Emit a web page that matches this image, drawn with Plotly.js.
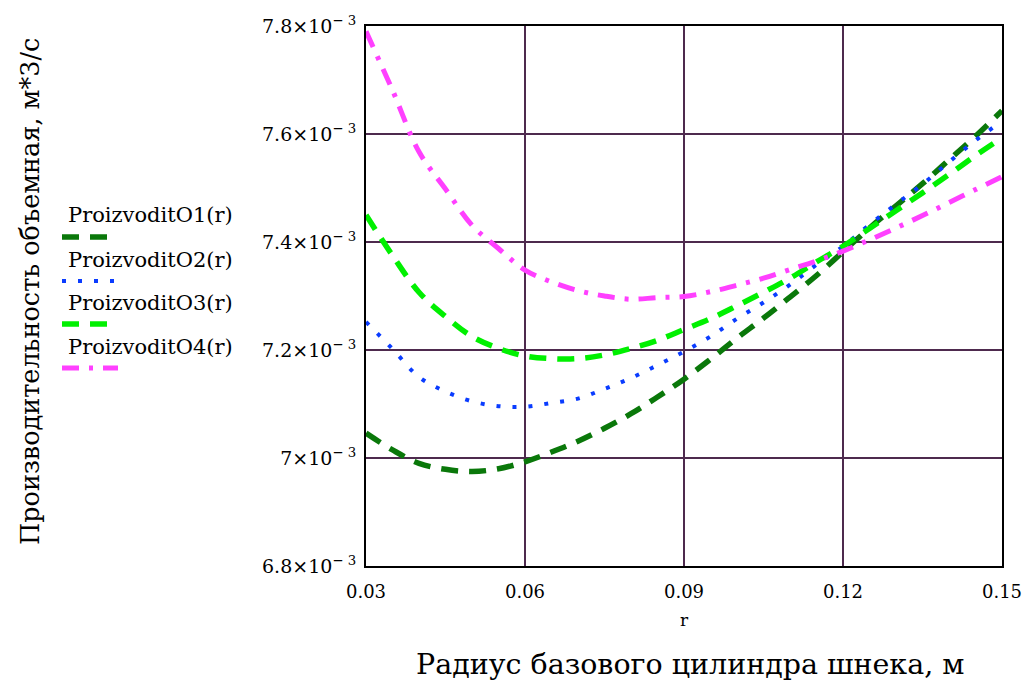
<!DOCTYPE html>
<html>
<head>
<meta charset="utf-8">
<script src="https://cdn.plot.ly/plotly-3.0.1.min.js"></script>
<style>html,body{margin:0;padding:0;background:#fff;}#chart{width:1033px;height:684px;}</style>
</head>
<body>
<div id="chart"></div>
<script>
// radius r, m
const r = [0.030,0.035,0.040,0.045,0.050,0.055,0.060,0.065,0.070,0.075,0.080,0.085,0.090,0.095,0.100,0.105,0.110,0.115,0.120,0.125,0.130,0.135,0.140,0.145,0.150];
// values in units of 1e-3 m^3/s
const proizvodit1 = [7.046,7.015,6.990,6.979,6.975,6.980,6.993,7.011,7.031,7.055,7.082,7.113,7.146,7.183,7.222,7.259,7.298,7.338,7.382,7.426,7.467,7.508,7.552,7.596,7.643];
const proizvodit2 = [7.252,7.202,7.150,7.123,7.105,7.096,7.095,7.102,7.110,7.128,7.148,7.172,7.197,7.225,7.258,7.288,7.321,7.358,7.392,7.432,7.470,7.507,7.548,7.588,7.624];
const proizvodit3 = [7.450,7.375,7.307,7.262,7.225,7.203,7.189,7.184,7.184,7.191,7.203,7.218,7.238,7.258,7.282,7.307,7.333,7.363,7.392,7.425,7.458,7.491,7.525,7.560,7.593];
const proizvodit4 = [7.790,7.681,7.567,7.498,7.431,7.388,7.348,7.326,7.310,7.300,7.294,7.297,7.299,7.308,7.320,7.333,7.349,7.365,7.383,7.404,7.426,7.449,7.473,7.497,7.521];

const seriesNames = ["ProizvoditO1(r)","ProizvoditO2(r)","ProizvoditO3(r)","ProizvoditO4(r)"];
const xTickVals = [0.03,0.06,0.09,0.12,0.15];
const xTickText = ["0.03","0.06","0.09","0.12","0.15"];
const yTickVals = [6.8,7.0,7.2,7.4,7.6,7.8];
const yTickText = ["6.8×10<sup>− 3</sup>","7×10<sup>− 3</sup>","7.2×10<sup>− 3</sup>","7.4×10<sup>− 3</sup>","7.6×10<sup>− 3</sup>","7.8×10<sup>− 3</sup>"];

const styles = [
  {color:"#0a780a", width:5.5, dash:"17px,11px"},
  {color:"#0a3cff", width:4, dash:"4px,12px"},
  {color:"#00f000", width:5.5, dash:"17px,11px"},
  {color:"#ff40ff", width:5, dash:"17px,10px,4px,10px"}
];
const ys = [proizvodit1, proizvodit2, proizvodit3, proizvodit4];

const traces = ys.map((y,i)=>({
  x:r, y:y, type:"scatter", mode:"lines", name:seriesNames[i],
  line:{color:styles[i].color, width:styles[i].width, dash:styles[i].dash, shape:"spline", smoothing:1},
  showlegend:false, hoverinfo:"skip"
}));

const font = "DejaVu Serif, Liberation Serif, serif";
const L = 366, R = 1002, T = 26, B = 566;
const W = R-L, H = B-T;
const px = v => (v - L)/W;
const py = v => (B - v)/H;

// legend (Mathcad style: name above sample)
const legText = [215, 260, 303, 347];
const legLine = [237, 281, 324, 368];
const legEnd = [108, 116, 108, 118];
const annotations = [];
const shapes = [];
for (let i=0;i<4;i++){
  annotations.push({xref:"paper", yref:"paper", x:px(66), y:py(legText[i]), xanchor:"left", yanchor:"middle",
    text:seriesNames[i], showarrow:false, font:{family:font, size:21, color:"#000"}});
  shapes.push({type:"line", xref:"paper", yref:"paper", x0:px(62), x1:px(legEnd[i]), y0:py(legLine[i]), y1:py(legLine[i]),
    line:{color:styles[i].color, width:styles[i].width, dash:styles[i].dash}});
}
annotations.push({xref:"paper", yref:"paper", x:px(684), y:py(620), xanchor:"center", yanchor:"middle",
  text:"r", showarrow:false, font:{family:font, size:17, color:"#000"}});
annotations.push({xref:"paper", yref:"paper", x:px(690), y:py(664), xanchor:"center", yanchor:"middle",
  text:"Радиус базового цилиндра шнека, м", showarrow:false, font:{family:font, size:28.5, color:"#000"}});
annotations.push({xref:"paper", yref:"paper", x:px(30), y:py(292), xanchor:"center", yanchor:"middle", textangle:-90,
  text:"Производительность объемная, м*3/с", showarrow:false, font:{family:font, size:25.5, color:"#000"}});

const layout = {
  width:1033, height:684,
  margin:{l:L, r:1033-R, t:T, b:684-B, pad:0},
  paper_bgcolor:"#fff", plot_bgcolor:"#fff",
  showlegend:false,
  xaxis:{range:[0.03,0.15], tickvals:xTickVals, ticktext:xTickText, showgrid:true, gridcolor:"#4e2a4e", gridwidth:2,
    zeroline:false, showline:true, linecolor:"#000", linewidth:2, mirror:true, ticks:"",
    tickfont:{family:font, size:18, color:"#000"}, ticklabelstandoff:8},
  yaxis:{range:[6.8,7.8], tickvals:yTickVals, ticktext:yTickText, showgrid:true, gridcolor:"#4e2a4e", gridwidth:2,
    zeroline:false, showline:true, linecolor:"#000", linewidth:2, mirror:true, ticks:"",
    tickfont:{family:font, size:19, color:"#000"}, ticklabelstandoff:4},
  annotations:annotations,
  shapes:shapes
};

Plotly.newPlot("chart", traces, layout, {staticPlot:true, displayModeBar:false});
</script>
</body>
</html>
